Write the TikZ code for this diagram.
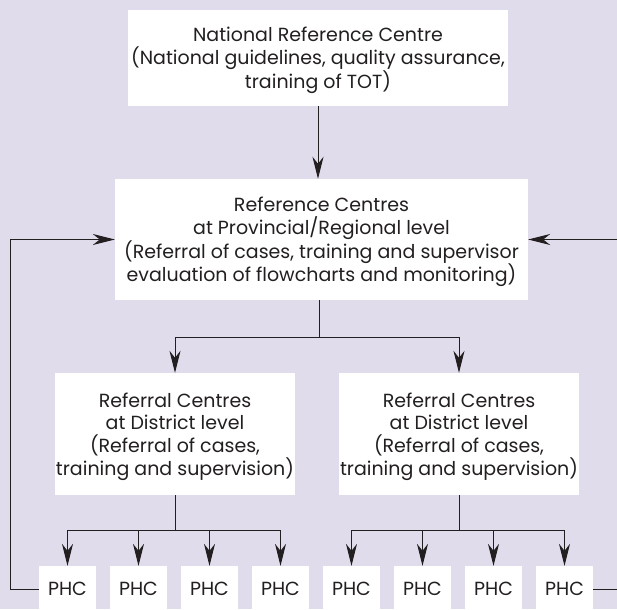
\documentclass[tikz,border=0pt]{standalone}
\usepackage{fontspec}
\setmainfont{Poppins}
\usetikzlibrary{arrows.meta}
\definecolor{lavender}{RGB}{224,220,235}
\definecolor{ink}{RGB}{35,31,32}

\begin{document}
\begin{tikzpicture}[x=1pt,y=-1pt,
	box/.style={fill=white,inner sep=0pt,align=center,text=ink,font=\fontsize{19}{22.7}\selectfont},
	level/.style={box,text depth=-9pt},
	link/.style={draw=ink,line width=0.9pt},
	flow/.style={link,-{Stealth[length=22pt,width=11pt,inset=7pt]}}]
\fill[lavender] (0,0) rectangle (617,609);
\clip (0,0) rectangle (617,609);
% levels
\node[level,minimum width=380,minimum height=96] (nrc) at (318,58) {National Reference Centre\\(National guidelines, quality assurance,\\training of TOT)};
\node[level,minimum width=413,minimum height=121] (prov) at (321.5,239.5) {Reference Centres\\at Provincial/Regional level\\(Referral of cases, training and supervisor\\evaluation of flowcharts and monitoring)};
\node[level,minimum width=240,minimum height=122] (dist1) at (175,434) {Referral Centres\\at District level\\(Referral of cases,\\training and supervision)};
\node[level,minimum width=240,minimum height=122] (dist2) at (459,434) {Referral Centres\\at District level\\(Referral of cases,\\training and supervision)};
\foreach \i in {1,...,8} {
	\node[box,minimum width=57,minimum height=46] (phc\i) at ({67.5+71*(\i-1)},589) {PHC};
}
% connectors
\draw[flow] (nrc.south) -- (nrc.south |- prov.north);
\coordinate (pj) at (319,337);
\draw[link] (prov.south -| pj) -- (pj);
\draw[flow] (pj) -| (dist1);
\draw[flow] (pj) -| (dist2);
\draw[link] (dist1.south) -- ++(0,35) coordinate (dj1);
\draw[link] (dist2.south) -- ++(0,35) coordinate (dj2);
\foreach \i in {1,...,4} {
	\draw[flow] (dj1) -| (phc\i);
}
\foreach \i in {5,...,8} {
	\draw[flow] (dj2) -| (phc\i);
}
% feedback
\coordinate (lt) at (10,589);
\coordinate (rt) at (630,589);
\draw[flow] (phc1.west) -- (lt) |- (prov.west);
\draw[flow] (phc8.east) -- (rt) |- (prov.east);
\end{tikzpicture}
\end{document}
